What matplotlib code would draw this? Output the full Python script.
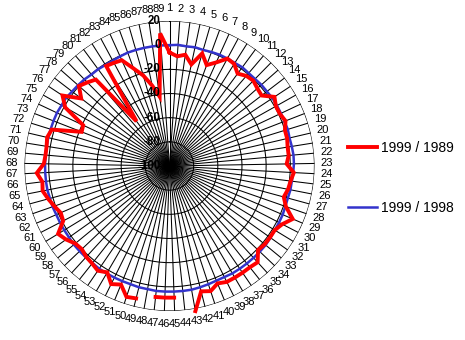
import numpy as np
import matplotlib
matplotlib.use("Agg")
import matplotlib.pyplot as plt
from matplotlib.lines import Line2D
from matplotlib.transforms import offset_copy

plt.rcParams['font.family'] = ['Liberation Sans', 'DejaVu Sans']

categories = [str(i) for i in range(1, 90)]

series_1989 = [
    -6, -9, -7, -14, -3, -11, -6, 1, 0, -5,
    -2, -1, -3, -4, 4, 1, 1, 3, 0, 0,
    -1, -1, -3, 3, 1, 0, -2, 2, 11, 5,
    2, 2, 2, 1, 8, 7, 7, 7, 7, 5,
    9, 7, 22, np.nan, 9, 9, 9, np.nan, 13, 14,
    6, 9, 2, 5, 3, 2, 0, 1, 5, 8,
    -1, -2, 1, 4, 7, 6, 10, 4, 3, 3,
    4, 2, -22, -21, -1, 6, -8, 0, -3, -6,
    -54, -2, -3, -4, -14, -22, -32, -42, 10]

series_1998 = [
    0, 0.5, 0, 0.5, 0, 0.5, 1, 1, 1, 1.5,
    1, 1, 1.5, 1.5, 2, 2, 2, 2, 2.5, 2,
    2.5, 3, 3, 2.5, 2, 2, 1.5, 1.5, 2, 2,
    2, 2.5, 3, 3, 3, 3, 3, 3, 2.5, 2.5,
    3, 3.5, 4, 4, 4, 4, 4, 3.5, 3.5, 3,
    3, 3, 3, 3, 2.5, 2.5, 2.5, 2.5, 2, 2,
    2, 2, 2.5, 2.5, 3, 3, 3, 3, 3, 3,
    3, 3, 3, 3, 2.5, 2.5, 1.5, 1, 0.5, -0.5,
    -0.5, -1, -1, -0.5, 0, 0, 0, 0, 0]

ring_levels = [20, 0, -20, -40, -60, -80]
ring_labels = ['20', '0', '-20', '-40', '-60', '-80', '-100']
label_levels = [20, 0, -20, -40, -60, -80, -100]
legend_labels = ['1999 / 1989', '1999 / 1998']

W, H = 465, 340
fig = plt.figure(figsize=(W / 100, H / 100), dpi=100)
cx, cy, R = 169.5, 166, 145
ax = fig.add_axes([(cx - R) / W, (H - cy - R) / H, 2 * R / W, 2 * R / H],
                  projection='polar')
ax.set_theta_zero_location('N')
ax.set_theta_direction(-1)
ax.set_ylim(-100, 20)
ax.axis('off')

n = len(categories)
theta = np.arange(n) * 2 * np.pi / n
theta_closed = np.append(theta, theta[0])

# grid polygons
for lv in ring_levels:
    ax.plot(theta_closed, [lv] * (n + 1), color='black', lw=0.75, zorder=1)
for t in theta:
    ax.plot([t, t], [-100, 20], color='black', lw=0.75, zorder=1)

# series
v1 = np.append(series_1989, series_1989[0])
v2 = np.append(series_1998, series_1998[0])
ax.plot(theta_closed, v2, color='#3333CC', lw=1.8, zorder=3, clip_on=False)
ax.plot(theta_closed, v1, color='#FF0000', lw=2.8, zorder=4, clip_on=False,
        solid_joinstyle='miter')

# category labels
for t, lab in zip(theta, categories):
    ax.text(t, 30.5, lab, ha='center', va='center', fontsize=8,
            clip_on=False)

# radial axis labels
tr = offset_copy(ax.transData, fig=fig, x=-9, y=0, units='dots')
for lv, lab in zip(label_levels, ring_labels):
    ax.text(0, lv, lab, ha='right', va='center', fontsize=8.3,
            fontweight='bold', transform=tr, zorder=5)

handles = [Line2D([], [], color='#FF0000', lw=2.8),
           Line2D([], [], color='#3333CC', lw=1.8)]
fig.legend(handles, legend_labels, loc='center left',
           bbox_to_anchor=(348 / W, 1 - 178 / H), frameon=False,
           fontsize=10, labelspacing=3.35, handlelength=2.1,
           handletextpad=0.3, borderpad=0, borderaxespad=0)

fig.savefig('out.png', dpi=100)
